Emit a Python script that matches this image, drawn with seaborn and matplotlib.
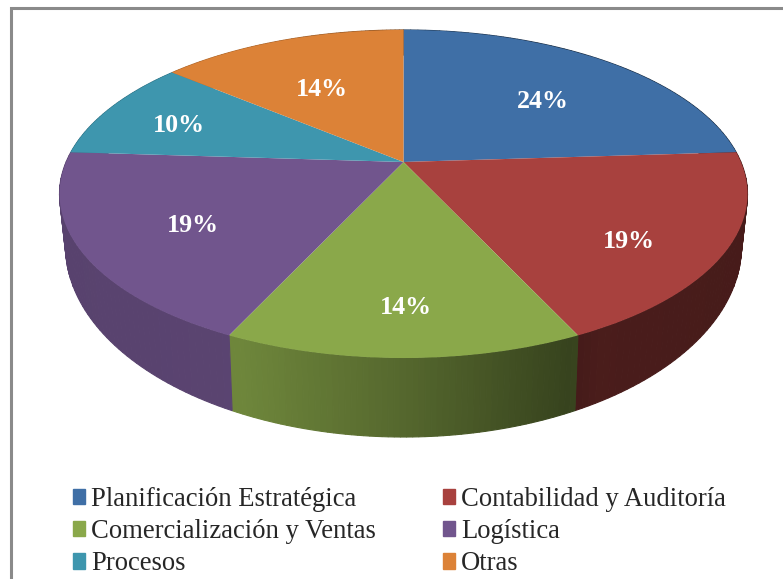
import numpy as np
import seaborn as sns
import matplotlib
matplotlib.use("Agg")
import matplotlib.pyplot as plt
from matplotlib.patches import Patch
from matplotlib.transforms import Transform

# data
categories = ["Planificación Estratégica", "Contabilidad y Auditoría", "Comercialización y Ventas",
              "Logística", "Procesos", "Otras"]
values = [24, 19, 14, 19, 10, 14]
palette = sns.color_palette(["#3f6fa6", "#a8413e", "#8aa84a", "#71558d", "#3e96ae", "#dc8237"])

# pixel geometry of the tilted disc
CX, CY = 403.5, 162
K, A, B = 0.195, 157.8, 337.4
label_xy = [(543, 100), (629, 240), (406, 306), (193, 224), (179, 124), (322, 87)]


def tilt(x, y):
    d = 1 + K * y
    return CX + B * x / d, CY - A * y / d


class Tilt(Transform):
    input_dims = 2
    output_dims = 2

    def transform_non_affine(self, xy):
        xy = np.asarray(xy)
        return np.column_stack(tilt(xy[:, 0], xy[:, 1]))


def bottom_rim(px, py):
    # the lower rim is a slightly narrower, taller ellipse
    return CX + (px - CX) * 338 / 344, 246 + (py - 194) * 191 / 164


sns.set_theme(style="white")
plt.rcParams["font.family"] = ["Liberation Serif", "DejaVu Serif"]

fig = plt.figure(figsize=(7.83, 5.79), dpi=100)
ax = fig.add_axes([0, 0, 1, 1])

wedges, _, autotexts = ax.pie(values, colors=palette, startangle=90, counterclock=False,
                              autopct="%.0f%%", textprops={"color": "white", "fontweight": "bold", "fontsize": 18.7})
ax.set_aspect("auto")
ax.set_xlim(0, 783)
ax.set_ylim(579, 0)

# side wall, darker towards the right
for w, col in zip(wedges, palette):
    ang = np.radians(np.linspace(w.theta1, w.theta2, 60))
    tx, ty = tilt(np.cos(ang), np.sin(ang))
    bx, by = bottom_rim(tx, ty)
    for i in range(len(ang) - 1):
        xm = (tx[i] + tx[i + 1]) / 2
        shade = np.interp(xm, [60, 240, 400, 570, 600, 750], [0.78, 0.8, 0.62, 0.4, 0.44, 0.42])
        c = np.array(col) * shade
        ax.fill([tx[i], tx[i + 1], bx[i + 1], bx[i]], [ty[i], ty[i + 1], by[i + 1], by[i]],
                color=c, lw=0.8, zorder=1)

for w in wedges:
    w.set_transform(Tilt() + ax.transData)
    w.set_zorder(2)
    w.set_edgecolor("none")

for t, (x, y) in zip(autotexts, label_xy):
    t.set_position((x, y + 2))
    t.set_zorder(3)

# frame is only open on the left and top, it runs off the picture
ax.plot([10.5, 10.5, 783], [579, 8, 8], color="#8a8a8a", lw=2.2, solid_joinstyle="miter", zorder=4)

order = [0, 2, 4, 1, 3, 5]
handles = [Patch(color=palette[i]) for i in order]
labels = [categories[i] for i in order]
fig.legend(handles, labels, ncols=2, frameon=False, fontsize=19.2,
           loc="lower left", bbox_to_anchor=(0.0625, -0.037),
           handlelength=0.45, handleheight=0.5, handletextpad=0.24, columnspacing=2.5, labelspacing=0.27)

fig.savefig("out.png", dpi=100)
